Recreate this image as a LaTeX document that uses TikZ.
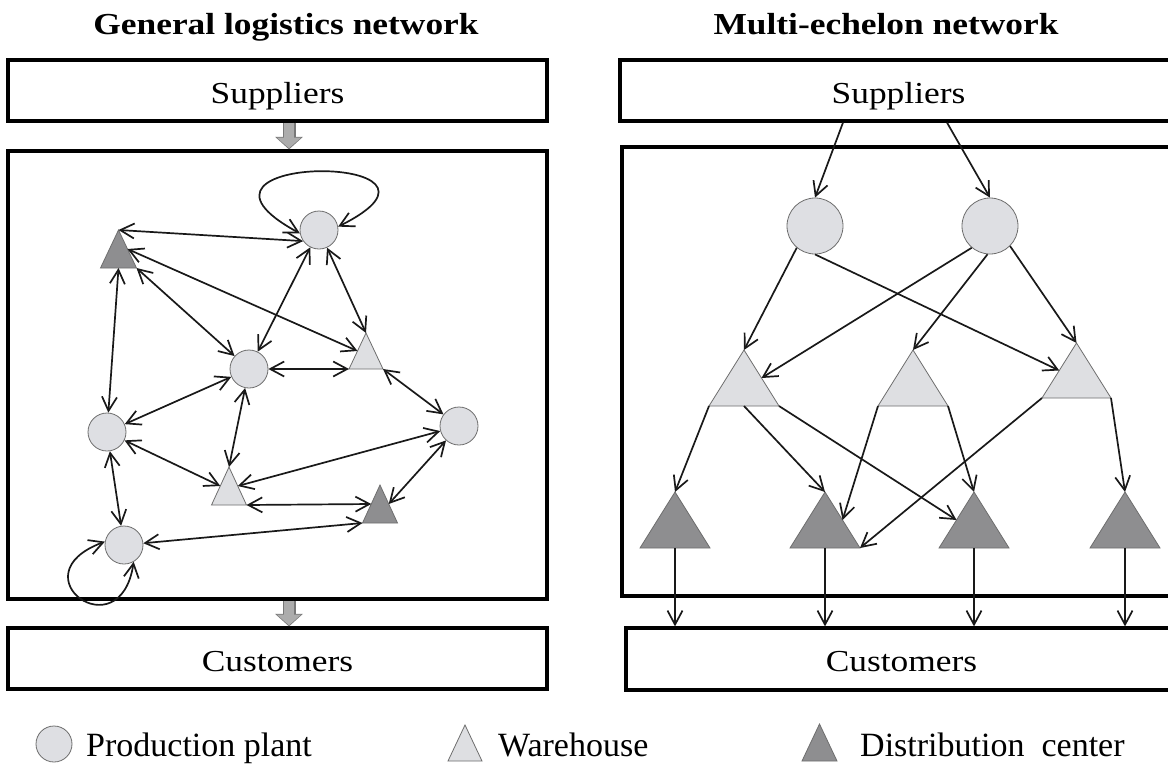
\documentclass[tikz,border=0pt]{standalone}
\usepackage{fontspec}
\setmainfont{Liberation Serif}
\newfontfamily\widefont{Liberation Serif}[FakeStretch=1.16]
\usetikzlibrary{arrows.meta,calc}
\definecolor{plantfill}{RGB}{222,223,227}
\definecolor{whfill}{RGB}{222,223,226}
\definecolor{dcfill}{RGB}{142,142,144}
\definecolor{shapeedge}{RGB}{110,110,110}
\definecolor{linkcol}{RGB}{25,25,25}
\definecolor{blockgray}{RGB}{172,172,172}
\definecolor{blockedgecol}{RGB}{120,120,120}
\tikzset{
  pics/tri/.style args={#1/#2/#3}{code={
    \filldraw[fill=#3, draw=shapeedge, line width=0.8pt, line join=miter] (-#1,0) -- (0,-#2) -- (#1,0) -- cycle;
    \coordinate (-left) at (-#1,0);
    \coordinate (-right) at (#1,0);
    \coordinate (-apex) at (0,-#2);
    \coordinate (-base) at (0,0);
    \coordinate (-lmid) at (-#1/2,-#2/2);
    \coordinate (-rmid) at (#1/2,-#2/2);
  }},
  box/.style={draw=black, line width=3.2pt, rectangle, inner sep=0pt,
    font=\widefont\fontsize{30.5pt}{36pt}\selectfont, text height=28pt, text depth=3pt},
  titletext/.style={inner sep=0pt, anchor=base, font=\widefont\bfseries\fontsize{30.5pt}{36pt}\selectfont},
  legendtext/.style={inner sep=0pt, anchor=base west, font=\fontsize{34pt}{40pt}\selectfont},
  plant/.style={circle, draw=shapeedge, fill=plantfill, line width=0.8pt, inner sep=0pt, minimum size=38pt},
  bigplant/.style={plant, minimum size=56pt},
  tipb/.tip={Straight Barb[length=14pt,width=15pt]},
  link/.style={draw=linkcol, line width=1.7pt, tipb-tipb},
  flow/.style={draw=linkcol, line width=1.7pt, -tipb},
  blockedge/.style={draw=blockedgecol, line width=13pt, -{Triangle[length=12.5pt,width=27pt]}},
  blockarrow/.style={draw=blockgray, line width=10.5pt, shorten >=1.2pt, -{Triangle[length=10.5pt,width=23.5pt]}},
}
\begin{document}
\begin{tikzpicture}[x=1pt,y=-1pt]
\useasboundingbox (0,0) rectangle (1168,766);
\fill[white] (0,0) rectangle (1168,766);
\clip (0,0) rectangle (1168,766);

% titles
\node[titletext] (titleL) at (286,34) {General logistics network};
\node[titletext] (titleR) at (886,34) {Multi-echelon network};

% ---------- left: general logistics network ----------
\node[box, minimum width=539pt, minimum height=61pt] (lsup) at (277.5,90.5) {Suppliers};
\node[box, minimum width=539pt, minimum height=448pt] (lmain) at (277.5,375) {};
\node[box, minimum width=539pt, minimum height=61pt] (lcus) at (277.5,658.5) {Customers};
\coordinate (gax) at (289,0);
\draw[blockedge] (lsup.south -| gax) -- (lmain.north -| gax);
\draw[blockarrow] (lsup.south -| gax) -- (lmain.north -| gax);
\draw[blockedge] (lmain.south -| gax) -- (lcus.north -| gax);
\draw[blockarrow] (lmain.south -| gax) -- (lcus.north -| gax);

\node[plant] (p1) at (319,230) {};
\node[plant] (p2) at (249,369) {};
\node[plant] (p3) at (107,432) {};
\node[plant] (p4) at (459,426) {};
\node[plant] (p5) at (124,545) {};
\pic (d1) at (118.5,268) {tri=18/38/dcfill};
\pic (w1) at (366,369) {tri=17/36/whfill};
\pic (w2) at (229,505) {tri=17.5/38/whfill};
\pic (d2) at (380,523) {tri=17.5/38/dcfill};

\draw[link] (d1-apex) -- (p1.215);
\draw[link] (d1-rmid) -- (w1-lmid);
\draw[link] (d1-right) -- (p2);
\draw[link] (d1-base) -- (p3);
\draw[link] (p1) -- (p2);
\draw[link] (p1) -- (w1-apex);
\draw[link] (p2) -- (w1-left);
\draw[link] (w1-right) -- (p4);
\draw[link] (p2) -- (p3);
\draw[link] (p2) -- (w2-apex);
\draw[link] (p3) -- (w2-lmid);
\draw[link] (p4) -- (w2-rmid);
\draw[link] (w2-right) -- (d2-lmid);
\draw[link] (p4) -- (d2-rmid);
\draw[link] (p3) -- (p5);
\draw[link] (p5) -- (d2-left);
\draw[link] (p1.190) .. controls (150,152) and (488,152) .. (p1.10);
\draw[link] (p5.170) .. controls (15,575) and (120,652) .. (p5.-60);

% ---------- right: multi-echelon network ----------
\node[box, minimum width=557pt, minimum height=61pt] (rsup) at (898.5,90.5) {Suppliers};
\node[box, minimum width=555pt, minimum height=449pt] (rmain) at (899.5,371.5) {};
\node[box, minimum width=551pt, minimum height=62pt] (rcus) at (901.5,659) {Customers};

\node[bigplant] (q1) at (815,226) {};
\node[bigplant] (q2) at (990,226) {};
\coordinate (sa) at (843,0);
\coordinate (sb) at (947,0);
\draw[flow] (rsup.south -| sa) -- (q1.north);
\draw[flow] (rsup.south -| sb) -- (q2.north);

\pic (t1) at (744,406) {tri=35/56/whfill};
\pic (t2) at (913,406) {tri=35/56/whfill};
\pic (t3) at (1076.5,398) {tri=34.5/55/whfill};
\pic (u1) at (675,548) {tri=35/56/dcfill};
\pic (u2) at (825,548) {tri=35/56/dcfill};
\pic (u3) at (974,548) {tri=35/56/dcfill};
\pic (u4) at (1125,548) {tri=35/56/dcfill};

\draw[flow] (q1.-130) -- (t1-apex);
\draw[flow] (q1.south) -- (t3-lmid);
\draw[flow] (q2.-130) -- (t1-rmid);
\draw[flow] (q2.-95) -- (t2-apex);
\draw[flow] (q2.-45) -- (t3-apex);

\draw[flow] (t1-left) -- (u1-apex);
\draw[flow] (t1-base) -- (u2-apex);
\draw[flow] (t1-right) -- (u3-lmid);
\draw[flow] (t2-left) -- (u2-rmid);
\draw[flow] (t2-right) -- (u3-apex);
\draw[flow] (t3-left) -- (u2-right);
\draw[flow] (t3-right) -- (u4-apex);

\draw[flow] (u1-base) -- (rcus.north -| u1-base);
\draw[flow] (u2-base) -- (rcus.north -| u2-base);
\draw[flow] (u3-base) -- (rcus.north -| u3-base);
\draw[flow] (u4-base) -- (rcus.north -| u4-base);

% ---------- legend ----------
\node[plant, minimum size=36pt] (lg1) at (54,744) {};
\node[legendtext] (lt1) at (86,756) {Production plant};
\pic (lg2) at (465,761) {tri=17/36/whfill};
\node[legendtext] (lt2) at (498,756) {Warehouse};
\pic (lg3) at (819.5,761) {tri=17.5/37/dcfill};
\node[legendtext] (lt3) at (860,756) {Distribution\ \ center};
\end{tikzpicture}
\end{document}
